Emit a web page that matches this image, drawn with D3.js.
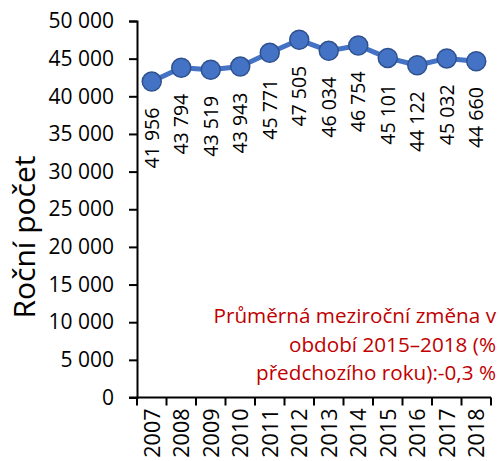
<!DOCTYPE html>
<html>
<head>
<meta charset="utf-8">
<script src="https://cdn.jsdelivr.net/npm/d3@7"></script>
<style>
  html, body { margin: 0; padding: 0; background: #fff; }
  svg { display: block; font-family: "Open Sans", sans-serif; }
</style>
</head>
<body>
<svg id="chart" width="500" height="461"></svg>
<script>
// Annual counts 2007–2018
const years = ["2007","2008","2009","2010","2011","2012","2013","2014","2015","2016","2017","2018"];
const counts = [41956, 43794, 43519, 43943, 45771, 47505, 46034, 46754, 45101, 44122, 45032, 44660];
const yTicks = [0, 5000, 10000, 15000, 20000, 25000, 30000, 35000, 40000, 45000, 50000];
const yTitle = "Roční počet";
const noteLines = ["Průměrná meziroční změna v", "období 2015–2018 (%", "předchozího roku):-0,3 %"];

const svg = d3.select("#chart");
const plotL = 137, plotR = 491, plotT = 21, plotB = 397.5;

const fmt = v => d3.format(",")(v).replace(/,/g, " ");

const x = d3.scaleBand().domain(years).range([plotL, plotR]).paddingInner(0).paddingOuter(0);
const y = d3.scaleLinear().domain([0, 50000]).range([plotB, plotT]);

// Y axis
const yAxis = svg.append("g")
  .attr("transform", `translate(${plotL},0)`)
  .call(d3.axisLeft(y).tickValues(yTicks).tickFormat(fmt).tickSize(8).tickPadding(15));
yAxis.select(".domain").attr("stroke", "#000").attr("stroke-width", 2);
yAxis.selectAll(".tick line").attr("stroke", "#000").attr("stroke-width", 2);
yAxis.selectAll(".tick text")
  .attr("fill", "#000")
  .style("font-size", "21px")
  .style("font-family", "'Open Sans', sans-serif");

// X axis: ticks at category boundaries
const xAxisG = svg.append("g").attr("transform", `translate(0,${plotB})`);
xAxisG.append("line")
  .attr("x1", plotL - 8).attr("x2", plotR)
  .attr("stroke", "#000").attr("stroke-width", 2);
const bounds = years.map(d => x(d)).concat([x(years[years.length - 1]) + x.bandwidth()]);
xAxisG.selectAll("line.tk").data(bounds).join("line")
  .attr("class", "tk")
  .attr("x1", d => d).attr("x2", d => d)
  .attr("y1", 0).attr("y2", 8)
  .attr("stroke", "#000").attr("stroke-width", 2);
xAxisG.selectAll("text").data(years).join("text")
  .attr("transform", d => `translate(${x(d) + x.bandwidth() / 2},11) rotate(-90)`)
  .attr("text-anchor", "end")
  .attr("dy", "0.36em")
  .attr("fill", "#000")
  .style("font-size", "21.5px")
  .text(d => d);

// Y axis title
svg.append("text")
  .attr("transform", `translate(35,237) rotate(-90)`)
  .attr("text-anchor", "middle")
  .attr("fill", "#000")
  .style("font-size", "30px")
  .text(yTitle);

// Line and markers
const pts = years.map((d, i) => ({ year: d, value: counts[i] }));
const cx = d => x(d.year) + x.bandwidth() / 2;

svg.append("path")
  .datum(pts)
  .attr("fill", "none")
  .attr("stroke", "#4472C4")
  .attr("stroke-width", 5)
  .attr("stroke-linejoin", "round")
  .attr("d", d3.line().x(cx).y(d => y(d.value)));

svg.selectAll("circle.pt").data(pts).join("circle")
  .attr("class", "pt")
  .attr("cx", cx)
  .attr("cy", d => y(d.value))
  .attr("r", 9.5)
  .attr("fill", "#4472C4")
  .attr("stroke", "#2F528F")
  .attr("stroke-width", 1.5);

// Value labels under each marker
svg.selectAll("text.val").data(pts).join("text")
  .attr("class", "val")
  .attr("transform", d => `translate(${cx(d)},${y(d.value) + 26}) rotate(-90)`)
  .attr("text-anchor", "end")
  .attr("dy", "0.36em")
  .attr("fill", "#000")
  .style("font-size", "19.5px")
  .text(d => fmt(d.value));

// Note on average change
const note = svg.append("text")
  .attr("text-anchor", "end")
  .attr("fill", "#C00000")
  .style("font-size", "20.7px");
const noteBase = [323, 352, 380];
noteLines.forEach((t, i) => {
  note.append("tspan").attr("x", 496).attr("y", noteBase[i]).text(t);
});
</script>
</body>
</html>
